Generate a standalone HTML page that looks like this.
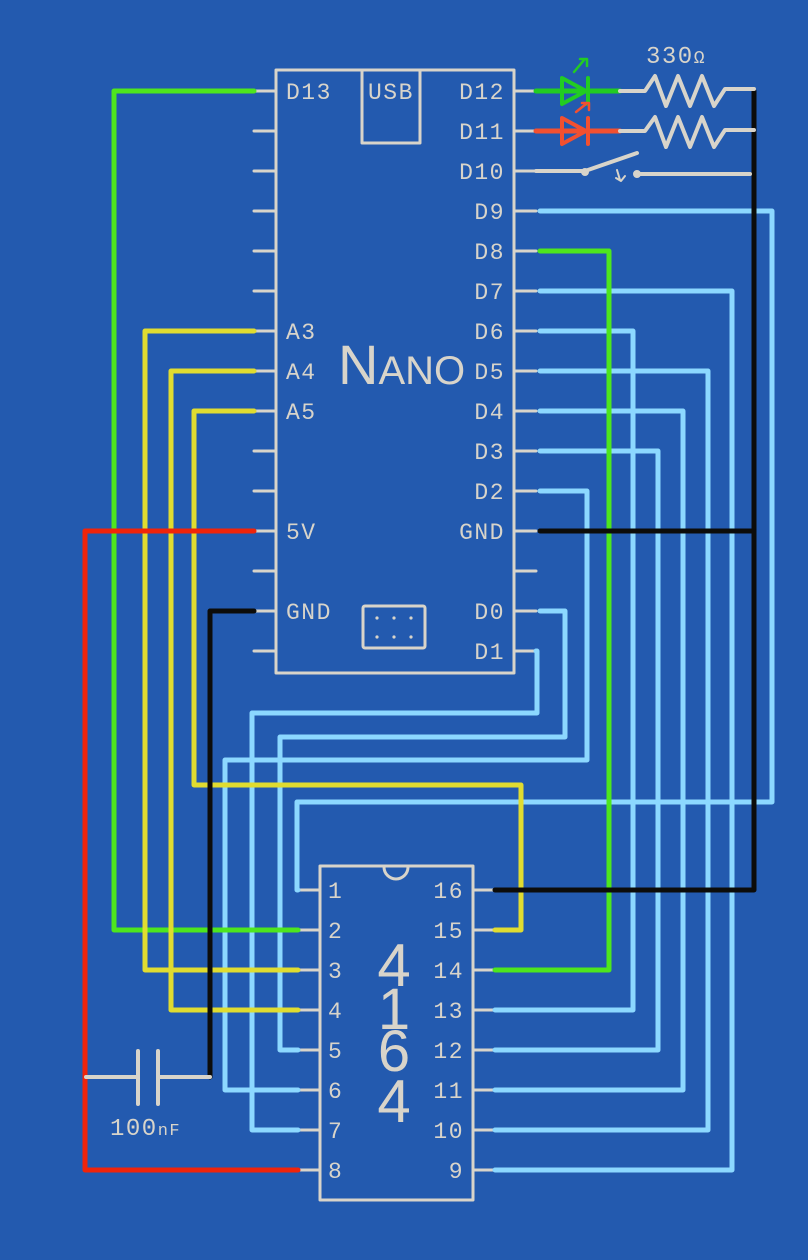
<!DOCTYPE html>
<html><head><style>
html,body{margin:0;padding:0;background:#235aaf;}
svg{display:block}
text{font-family:"Liberation Mono",monospace;fill:#d8d4ca;font-size:23px;letter-spacing:1.5px}
</style></head><body>
<svg width="808" height="1260" viewBox="0 0 808 1260" xmlns="http://www.w3.org/2000/svg">
<rect width="808" height="1260" fill="#235aaf"/>
<g fill="none" stroke-linecap="round" stroke-linejoin="round">
<g stroke="#d8d4ca" stroke-width="3">
<path d="M254 91H276M254 131H276M254 171H276M254 211H276M254 251H276M254 291H276M254 331H276M254 371H276M254 411H276M254 451H276M254 491H276M254 531H276M254 571H276M254 611H276M254 651H276"/>
<path d="M514 91H536M514 131H536M514 171H536M514 211H536M514 251H536M514 291H536M514 331H536M514 371H536M514 411H536M514 451H536M514 491H536M514 531H536M514 571H536M514 611H536M514 651H536"/>
<rect x="276" y="70" width="238" height="603"/>
<rect x="362" y="70" width="58" height="73"/>
<rect x="363" y="606" width="62" height="42" rx="2"/>
<rect x="320" y="866" width="153" height="334"/>
<path d="M384 867 A12 12 0 0 0 408 867"/>
<path d="M298 890H320M298 930H320M298 970H320M298 1010H320M298 1050H320M298 1090H320M298 1130H320M298 1170H320"/>
<path d="M473 890H495M473 930H495M473 970H495M473 1010H495M473 1050H495M473 1090H495M473 1130H495M473 1170H495"/>
</g>
<g stroke="#8cd8ff" stroke-width="5">
<path d="M540 211H772V802H297V890H298"/>
<path d="M540 291H732V1170H495"/>
<path d="M540 331H633V1010H495"/>
<path d="M540 371H708V1130H495"/>
<path d="M540 411H683V1090H495"/>
<path d="M540 451H658V1050H495"/>
<path d="M540 491H587V760H225V1090H298"/>
<path d="M540 611H565V737H280V1050H298"/>
<path d="M536 651H537V713H252V1130H298"/>
</g>
<g stroke="#4ee61e" stroke-width="5">
<path d="M254 91H114V930H298"/>
<path d="M540 251H609V970H495"/>
</g>
<g stroke="#e0dc30" stroke-width="5">
<path d="M254 331H145V970H298"/>
<path d="M254 371H171V1010H298"/>
<path d="M254 411H194V785H521V930H495"/>
</g>
<g stroke="#0c0c0a" stroke-width="5">
<path d="M754 91V890H495"/>
<path d="M540 531H754"/>
<path d="M254 611H210V1077"/>
</g>
<path d="M254 531H85V1170H298" stroke="#f0240a" stroke-width="5"/>
<g stroke="#d8d4ca" stroke-width="4">
<path d="M86 1077H138M160 1077H210M138 1051V1104M158 1051V1104"/>
</g>
<path d="M536 91H620" stroke="#22cc22" stroke-width="5"/>
<path d="M562 78L586 91L562 104Z M588 78V104" stroke="#22cc22" stroke-width="4"/>
<path d="M574 72L584 60M580 59H587V66" stroke="#22cc22" stroke-width="2.5"/>
<path d="M536 131H620" stroke="#f25030" stroke-width="5"/>
<path d="M562 118L586 131L562 144Z M588 118V144" stroke="#f25030" stroke-width="4"/>
<path d="M576 112L586 104M582 103H589V110" stroke="#f25030" stroke-width="2.5"/>
<g stroke="#d8d4ca" stroke-width="4">
<path d="M620 91H645L655 76L666 106L678 76L690 106L702 76L714 106L725 89H754"/>
<path d="M620 131H645L655 117L666 147L678 117L690 147L702 117L714 147L725 130H754"/>
<path d="M536 171H585L637 153"/>
<circle cx="585" cy="172" r="2"/>
<circle cx="637" cy="174" r="2"/>
<path d="M637 174H750"/>
<path d="M617 170L620 180M616 178L621 181L625 176" stroke-width="2"/>
</g>
</g>
<text x="286" y="99">D13</text>
<text x="368" y="99">USB</text>
<text x="286" y="339">A3</text>
<text x="286" y="379">A4</text>
<text x="286" y="419">A5</text>
<text x="286" y="539">5V</text>
<text x="286" y="619">GND</text>
<g text-anchor="end">
<text x="505" y="99">D12</text>
<text x="505" y="139">D11</text>
<text x="505" y="179">D10</text>
<text x="505" y="219">D9</text>
<text x="505" y="259">D8</text>
<text x="505" y="299">D7</text>
<text x="505" y="339">D6</text>
<text x="505" y="379">D5</text>
<text x="505" y="419">D4</text>
<text x="505" y="459">D3</text>
<text x="505" y="499">D2</text>
<text x="505" y="539">GND</text>
<text x="505" y="619">D0</text>
<text x="505" y="659">D1</text>
</g>
<g fill="#d8d4ca" stroke="none">
<circle cx="377" cy="618" r="1.6"/><circle cx="394" cy="618" r="1.6"/><circle cx="411" cy="618" r="1.6"/>
<circle cx="377" cy="637" r="1.6"/><circle cx="394" cy="637" r="1.6"/><circle cx="411" cy="637" r="1.6"/>
</g>
<text x="338" y="384" style="font-family:'Liberation Sans',sans-serif;font-size:56px;letter-spacing:0">N<tspan style="font-size:40px">ANO</tspan></text>
<text x="646" y="63" style="font-size:24px">330<tspan style="font-size:18px">Ω</tspan></text>
<text x="110" y="1135" style="font-size:24px">100<tspan style="font-size:17px">nF</tspan></text>
<g style="font-size:24px">
<text x="328" y="898">1</text><text x="328" y="938">2</text><text x="328" y="978">3</text><text x="328" y="1018">4</text>
<text x="328" y="1058">5</text><text x="328" y="1098">6</text><text x="328" y="1138">7</text><text x="328" y="1178">8</text>
</g>
<g text-anchor="end">
<text x="464" y="898">16</text><text x="464" y="938">15</text><text x="464" y="978">14</text><text x="464" y="1018">13</text>
<text x="464" y="1058">12</text><text x="464" y="1098">11</text><text x="464" y="1138">10</text><text x="464" y="1178">9</text>
</g>
<g text-anchor="middle">
<text x="394" y="986" style="font-family:'Liberation Sans',sans-serif;font-size:60px;letter-spacing:0">4</text>
<text x="394" y="1029" style="font-family:'Liberation Sans',sans-serif;font-size:58px;letter-spacing:0">1</text>
<text x="394" y="1071" style="font-family:'Liberation Sans',sans-serif;font-size:58px;letter-spacing:0">6</text>
<text x="394" y="1122" style="font-family:'Liberation Sans',sans-serif;font-size:60px;letter-spacing:0">4</text>
</g>
</svg>
</body></html>
